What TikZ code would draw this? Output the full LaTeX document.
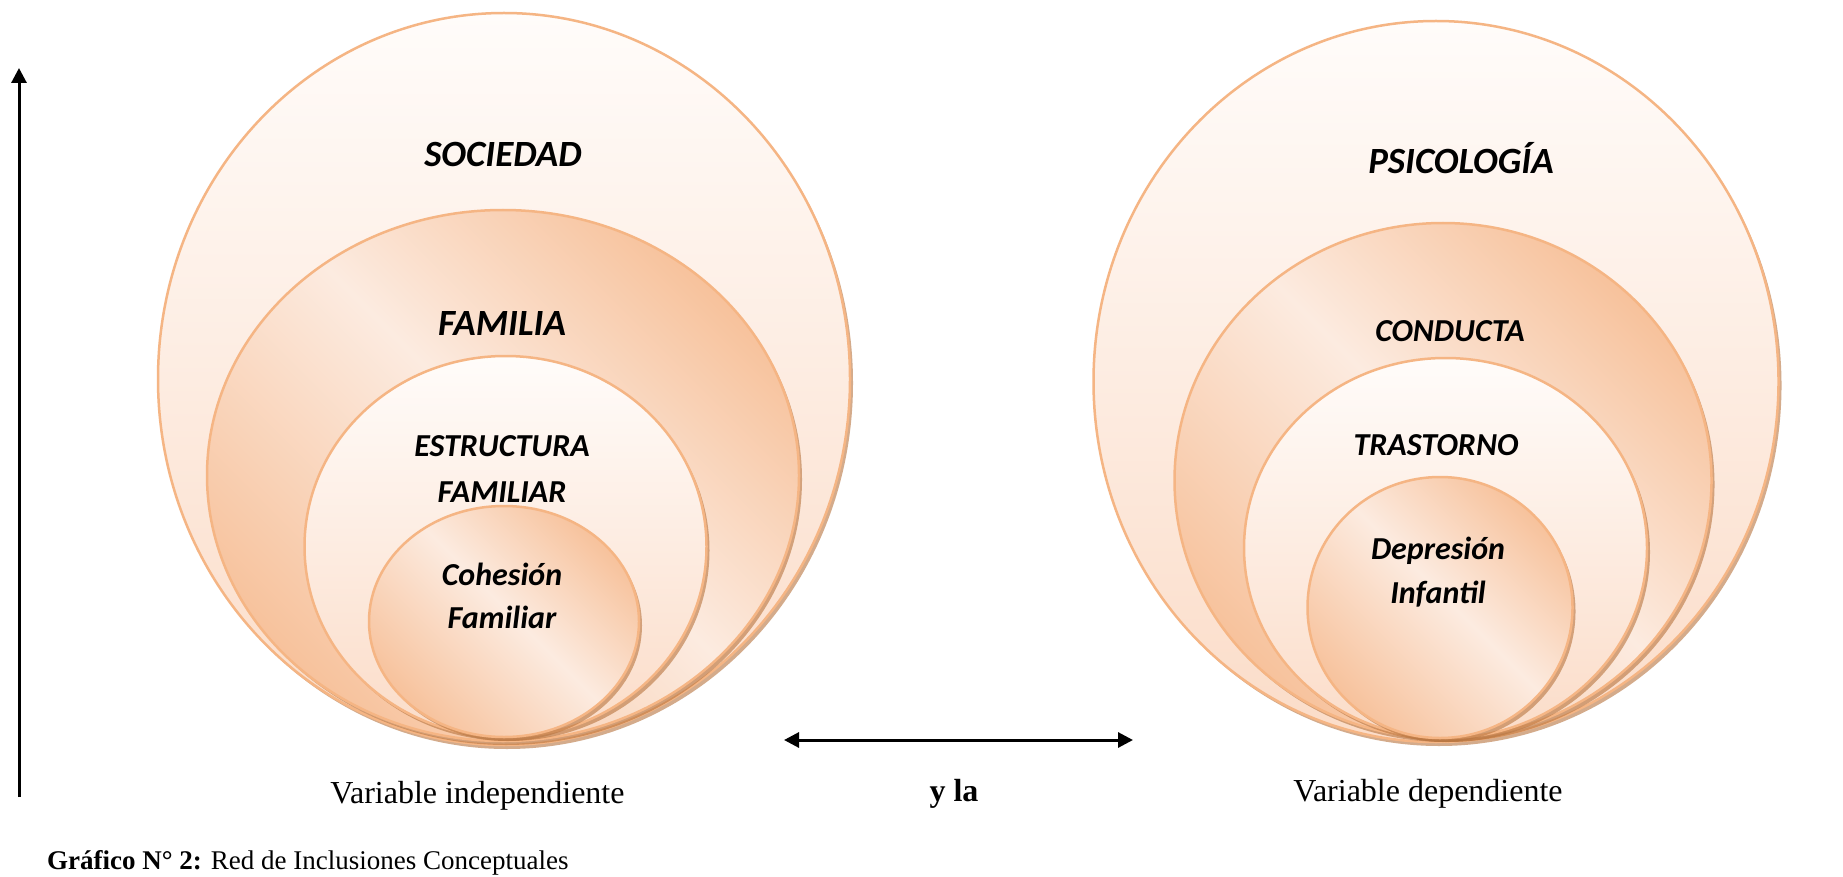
\documentclass[tikz,border=0pt]{standalone}
\usepackage{fontspec}
\setmainfont{Liberation Serif}
\newfontfamily\calib{Carlito}
\usetikzlibrary{arrows.meta}

\definecolor{ringedge}{HTML}{F5B584}
\definecolor{lighttop}{HTML}{FFFCFA}
\definecolor{lightbot}{HTML}{FBDCC8}
\definecolor{oraD}{HTML}{F7C29C}
\definecolor{oraL}{HTML}{FCEBE0}
\definecolor{shadowc}{HTML}{B8743E}

\pgfdeclarehorizontalshading{ringshade}{100bp}{color(0bp)=(oraD); color(25bp)=(oraD); color(52bp)=(oraL); color(75bp)=(oraD); color(100bp)=(oraD)}

\newcommand\myring[6]{%
  \fill[shad] (#1+3,#2+4) ellipse [x radius=#3pt, y radius=#4pt];
  \path[#5] (#1,#2) ellipse [x radius=#3pt, y radius=#4pt];
  \coordinate (#6) at (#1,#2);
}

\begin{document}
\begin{tikzpicture}[x=1pt,y=-1pt,
  lightring/.style={top color=lighttop, bottom color=lightbot, draw=ringedge, line width=2.5pt},
  darkring/.style={shading=ringshade, shading angle=45, draw=ringedge, line width=2.5pt},
  shad/.style={fill=shadowc, opacity=0.6},
  bigtxt/.style={font=\calib\bfseries\itshape\fontsize{37}{44}\selectfont, anchor=base, inner sep=0pt},
  midtxt/.style={font=\calib\bfseries\itshape\fontsize{32}{40}\selectfont, anchor=base, inner sep=0pt},
  lbl/.style={font=\fontsize{32}{38}\selectfont, anchor=base, inner sep=0pt},
  axisarrow/.style={line width=3pt, -{Triangle[length=15pt,width=15pt]}},
  bothways/.style={line width=3pt, {Triangle[length=15pt,width=15pt]}-{Triangle[length=15pt,width=15pt]}}
]
\useasboundingbox[fill=white] (0,0) rectangle (1843,877);

% left group
\myring{504}{379}{346}{366}{lightring}{soc}
\myring{503}{475.5}{296}{265.5}{darkring}{fam}
\myring{505.5}{546.5}{201}{190.5}{lightring}{est}
\myring{504}{621.5}{135}{115.5}{darkring}{coh}

% right group
\myring{1436}{381.5}{342.5}{360.5}{lightring}{psi}
\myring{1443}{480.5}{268.5}{257.5}{darkring}{con}
\myring{1445.5}{548}{201.5}{190}{lightring}{tra}
\myring{1440}{607.5}{132.5}{130.5}{darkring}{dep}

% labels in rings
\node[bigtxt] (tsoc) at (503,167) {SOCIEDAD};
\node[bigtxt] (tfam) at (502,335) {FAMILIA};
\node[midtxt] (test1) at (502,456) {ESTRUCTURA};
\node[midtxt] (test2) at (502,502) {FAMILIAR};
\node[midtxt] (tcoh1) at (502,585) {Cohesión};
\node[midtxt] (tcoh2) at (502,628) {Familiar};

\node[bigtxt] (tpsi) at (1461,173.5) {PSICOLOGÍA};
\node[midtxt] (tcon) at (1450,341.5) {CONDUCTA};
\node[midtxt] (ttra) at (1436,455) {TRASTORNO};
\node[midtxt] (tdep1) at (1438,559) {Depresión};
\node[midtxt] (tdep2) at (1438,603) {Infantil};

% bottom labels
\node[lbl] (vind) at (477.5,803) {Variable independiente};
\node[lbl, font=\bfseries\fontsize{32}{38}\selectfont] (yla) at (954,801) {y la};
\node[lbl] (vdep) at (1428,801) {Variable dependiente};

% arrows
\coordinate (upbot) at (19,797);
\coordinate (uptop) at (19,68);
\draw[axisarrow] (upbot) -- (uptop);
\coordinate (hl) at (784,740);
\coordinate (hr) at (1133,740);
\draw[bothways] (hl) -- (hr);

% caption
\node[anchor=base west, inner sep=0pt, font=\fontsize{27}{32}\selectfont] (cap) at (47,869) {\textbf{Gráfico N° 2:} Red de Inclusiones Conceptuales};
\end{tikzpicture}
\end{document}
